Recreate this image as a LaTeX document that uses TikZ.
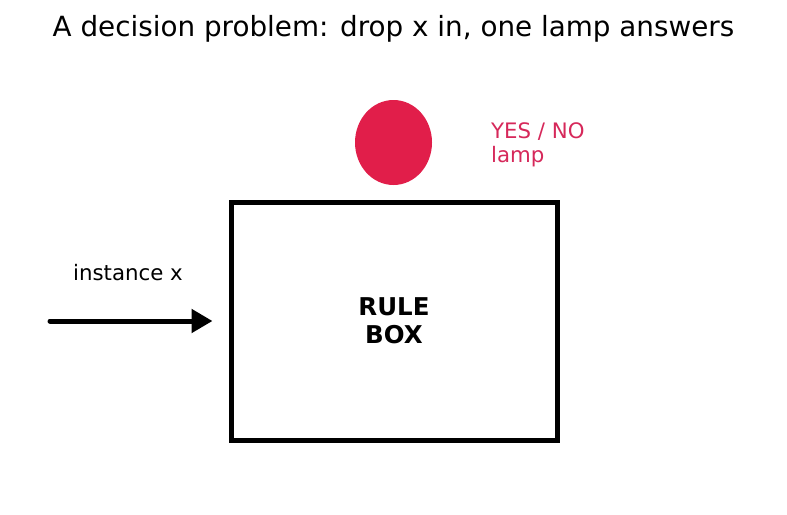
\documentclass[tikz,border=0pt]{standalone}
\usepackage{fontspec}
\setmainfont{DejaVu Sans}
\usetikzlibrary{shapes.geometric,arrows.meta}
\definecolor{lampred}{HTML}{E11E4A}
\definecolor{lamptext}{HTML}{D6285A}
\tikzset{
  rulebox/.style={draw=black,line width=5pt,minimum width=326pt,minimum height=238pt,inner sep=0pt,font=\fontsize{24.5pt}{28pt}\selectfont\bfseries,align=center},
  lampshape/.style={ellipse,fill=lampred,minimum width=77pt,minimum height=85pt,inner sep=0pt},
  lbl/.style={font=\fontsize{21.3pt}{23.5pt}\selectfont,inner sep=0pt},
  flow/.style={line width=5pt,line cap=round,-{Triangle[length=21pt,width=23pt]}}
}
\begin{document}
\begin{tikzpicture}[x=1pt,y=-1pt]
\useasboundingbox (0,0) rectangle (787,514);
\node[font=\fontsize{27.8pt}{32pt}\selectfont,inner sep=0pt,anchor=base] (title) at (393.5,36) {A decision problem: drop x in, one lamp answers};
\node[rulebox] (box) at (394,321) {RULE\\BOX};
\node[lampshape] (lamp) at (393.5,142.5) {};
\node[lbl,text=lamptext,align=left,anchor=west] (lamplbl) at (491,145) {YES / NO\\lamp};
\coordinate (src) at (50,321);
\node[lbl,anchor=base] (inst) at (128,280) {instance x};
\draw[flow] (src) -- ([xshift=-16pt]box.west);
\end{tikzpicture}
\end{document}
